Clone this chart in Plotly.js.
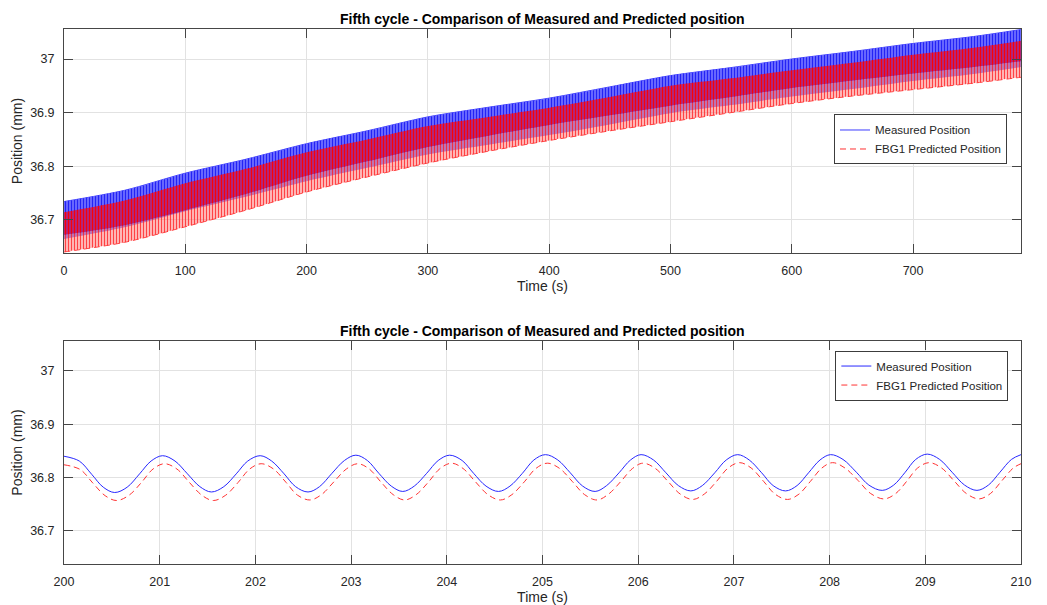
<!DOCTYPE html>
<html><head><meta charset="utf-8">
<script src="https://cdn.plot.ly/plotly-3.0.1.min.js"></script>
<style>html,body{margin:0;padding:0;background:#fff;} #chart{width:1047px;height:605px;}</style>
</head><body><div id="chart"></div>
<script>
const chartTitle = 'Fifth cycle - Comparison of Measured and Predicted position';
const seriesNames = ['Measured Position', 'FBG1 Predicted Position'];
const xTitle = 'Time (s)';
const yTitle = 'Position (mm)';

// Full record (top panel): envelope of the dense 1 Hz oscillation
const fullTime        = [0, 50, 100, 150, 200, 250, 300, 350, 400, 450, 500, 550, 600, 650, 700, 750, 789];
const measuredUpper   = [36.734, 36.755, 36.787, 36.813, 36.842, 36.866, 36.892, 36.910, 36.927, 36.948, 36.969, 36.984, 37.000, 37.014, 37.029, 37.042, 37.055];
const measuredLower   = [36.664, 36.686, 36.716, 36.743, 36.772, 36.797, 36.822, 36.840, 36.858, 36.878, 36.899, 36.914, 36.930, 36.944, 36.959, 36.972, 36.985];
const predictedUpper  = [36.714, 36.736, 36.768, 36.795, 36.826, 36.850, 36.875, 36.892, 36.909, 36.929, 36.950, 36.964, 36.979, 36.993, 37.008, 37.021, 37.034];
const predictedMid    = [36.672, 36.690, 36.718, 36.748, 36.782, 36.809, 36.836, 36.857, 36.877, 36.895, 36.913, 36.929, 36.946, 36.960, 36.973, 36.985, 36.996];
const predictedLower  = [36.640, 36.658, 36.687, 36.718, 36.752, 36.780, 36.806, 36.828, 36.848, 36.866, 36.883, 36.900, 36.917, 36.931, 36.943, 36.955, 36.966];

// Zoomed window 200-210 s (bottom panel)
const zoomTimeMeasured = [
  200.00, 200.16, 200.29, 200.41, 200.53, 200.66, 200.79, 200.91,
  201.03, 201.16, 201.29, 201.42, 201.54, 201.67, 201.80, 201.92,
  202.05, 202.17, 202.30, 202.42, 202.55, 202.67, 202.80, 202.93,
  203.05, 203.17, 203.29, 203.42, 203.54, 203.66, 203.79, 203.91,
  204.03, 204.16, 204.28, 204.41, 204.54, 204.66, 204.79, 204.91,
  205.03, 205.16, 205.29, 205.42, 205.55, 205.67, 205.80, 205.92,
  206.03, 206.16, 206.29, 206.42, 206.55, 206.67, 206.80, 206.92,
  207.04, 207.16, 207.29, 207.41, 207.54, 207.66, 207.78, 207.90,
  208.01, 208.14, 208.28, 208.41, 208.55, 208.67, 208.79, 208.90,
  209.02, 209.15, 209.28, 209.41, 209.54, 209.66, 209.78, 209.90,
  210.00];
const zoomMeasured = [
  36.840, 36.831, 36.806, 36.782, 36.772, 36.782, 36.807, 36.831,
  36.841, 36.831, 36.807, 36.783, 36.773, 36.783, 36.807, 36.831,
  36.841, 36.831, 36.807, 36.783, 36.773, 36.783, 36.808, 36.832,
  36.842, 36.832, 36.808, 36.784, 36.774, 36.784, 36.808, 36.832,
  36.842, 36.832, 36.808, 36.784, 36.774, 36.784, 36.808, 36.833,
  36.843, 36.833, 36.809, 36.784, 36.774, 36.785, 36.809, 36.833,
  36.843, 36.833, 36.809, 36.785, 36.775, 36.785, 36.809, 36.833,
  36.843, 36.833, 36.809, 36.785, 36.775, 36.785, 36.809, 36.833,
  36.843, 36.834, 36.810, 36.786, 36.776, 36.786, 36.810, 36.834,
  36.844, 36.834, 36.810, 36.786, 36.776, 36.786, 36.810, 36.834,
  36.843];
const zoomTimePredicted = [
  200.00, 200.17, 200.30, 200.43, 200.55, 200.68, 200.81, 200.93,
  201.05, 201.18, 201.31, 201.44, 201.56, 201.69, 201.82, 201.94,
  202.06, 202.19, 202.32, 202.44, 202.57, 202.69, 202.82, 202.95,
  203.07, 203.19, 203.31, 203.44, 203.56, 203.68, 203.81, 203.93,
  204.05, 204.17, 204.30, 204.43, 204.56, 204.68, 204.81, 204.93,
  205.05, 205.18, 205.31, 205.44, 205.57, 205.69, 205.82, 205.94,
  206.05, 206.18, 206.31, 206.44, 206.57, 206.69, 206.82, 206.94,
  207.06, 207.18, 207.31, 207.43, 207.56, 207.68, 207.80, 207.92,
  208.03, 208.16, 208.30, 208.43, 208.57, 208.69, 208.81, 208.92,
  209.04, 209.17, 209.30, 209.43, 209.56, 209.68, 209.80, 209.92,
  210.00];
const zoomPredicted = [
  36.824, 36.815, 36.790, 36.766, 36.757, 36.767, 36.791, 36.816,
  36.826, 36.816, 36.791, 36.767, 36.757, 36.767, 36.791, 36.816,
  36.826, 36.816, 36.791, 36.767, 36.758, 36.768, 36.792, 36.816,
  36.826, 36.816, 36.792, 36.768, 36.758, 36.768, 36.792, 36.817,
  36.827, 36.817, 36.792, 36.768, 36.758, 36.768, 36.792, 36.817,
  36.827, 36.817, 36.793, 36.768, 36.758, 36.769, 36.793, 36.817,
  36.827, 36.817, 36.793, 36.769, 36.759, 36.769, 36.793, 36.818,
  36.828, 36.818, 36.793, 36.769, 36.759, 36.769, 36.793, 36.818,
  36.828, 36.818, 36.794, 36.770, 36.760, 36.770, 36.794, 36.818,
  36.828, 36.818, 36.794, 36.770, 36.760, 36.770, 36.794, 36.818,
  36.826];

const fullTicks = [0, 100, 200, 300, 400, 500, 600, 700];
const zoomTicks = [200, 201, 202, 203, 204, 205, 206, 207, 208, 209, 210];
const yTicks = [36.7, 36.8, 36.9, 37];
const yTickText = ['36.7', '36.8', '36.9', '37'];

const FONT = 'Liberation Sans, Arial, Helvetica, sans-serif';
const TXT = 'rgb(38,38,38)';
const envLine = {width: 0, color: 'rgba(0,0,0,0)', shape: 'spline', smoothing: 0.8};
const BLUE_LINE = 'rgb(60,60,255)';
const RED_LINE = 'rgb(255,50,50)';

const traces = [
  // top panel edge lines (carry the top legend)
  {x: fullTime, y: measuredUpper, xaxis: 'x', yaxis: 'y', mode: 'lines', name: seriesNames[0],
   line: {color: BLUE_LINE, width: 1, shape: 'spline', smoothing: 0.8}, legend: 'legend', hoverinfo: 'skip'},
  {x: fullTime, y: predictedLower, xaxis: 'x', yaxis: 'y', mode: 'lines', name: seriesNames[1],
   line: {color: RED_LINE, width: 1, dash: '6px,4px', shape: 'spline', smoothing: 0.8}, legend: 'legend', hoverinfo: 'skip'},
  // top panel bands
  {x: fullTime, y: measuredLower, xaxis: 'x', yaxis: 'y', mode: 'lines', line: envLine, showlegend: false, hoverinfo: 'skip'},
  {x: fullTime, y: measuredUpper, xaxis: 'x', yaxis: 'y', mode: 'lines', fill: 'tonexty', line: envLine,
   fillcolor: 'rgb(80,80,255)', fillpattern: {shape: '|', size: 3, solidity: 0.4, fgcolor: 'rgb(35,35,245)', bgcolor: 'rgb(110,110,255)'},
   showlegend: false, hoverinfo: 'skip'},
  {x: fullTime, y: predictedLower, xaxis: 'x', yaxis: 'y', mode: 'lines', line: envLine, showlegend: false, hoverinfo: 'skip'},
  {x: fullTime, y: predictedMid, xaxis: 'x', yaxis: 'y', mode: 'lines', fill: 'tonexty', line: envLine,
   fillcolor: 'rgba(255,110,110,0.6)', fillpattern: {shape: '|', size: 3, solidity: 0.5, fgcolor: 'rgba(255,40,40,0.85)', bgcolor: 'rgba(255,175,175,0.45)'},
   showlegend: false, hoverinfo: 'skip'},
  {x: fullTime, y: predictedUpper, xaxis: 'x', yaxis: 'y', mode: 'lines', fill: 'tonexty', line: envLine,
   fillcolor: 'rgba(240,0,40,0.7)', fillpattern: {shape: '|', size: 3, solidity: 0.55, fgcolor: 'rgba(255,0,0,0.95)', bgcolor: 'rgba(190,0,90,0.5)'},
   showlegend: false, hoverinfo: 'skip'},
  // bottom panel lines
  {x: zoomTimeMeasured, y: zoomMeasured, xaxis: 'x2', yaxis: 'y2', mode: 'lines', name: seriesNames[0],
   line: {color: 'rgb(40,40,255)', width: 1, shape: 'spline', smoothing: 1}, legend: 'legend2'},
  {x: zoomTimePredicted, y: zoomPredicted, xaxis: 'x2', yaxis: 'y2', mode: 'lines', name: seriesNames[1],
   line: {color: RED_LINE, width: 1, dash: '6px,4px', shape: 'spline', smoothing: 1}, legend: 'legend2'}
];

const axisBase = {
  showline: true, linecolor: 'rgb(70,70,70)', linewidth: 1, mirror: 'ticks',
  ticks: 'inside', ticklen: 9, tickwidth: 1, tickcolor: 'rgb(70,70,70)',
  showgrid: true, gridcolor: 'rgb(226,226,226)', gridwidth: 1, zeroline: false,
  tickfont: {family: FONT, size: 12.5, color: TXT}, ticklabelstandoff: 6
};
const yRange = [36.638, 37.056];

const legendBase = {xanchor: 'left', yanchor: 'top', bgcolor: 'white', bordercolor: 'rgb(60,60,60)', borderwidth: 1,
  font: {family: FONT, size: 11.5, color: TXT}, tracegroupgap: 0, traceorder: 'normal'};

const layout = {
  width: 1047, height: 605,
  margin: {l: 64, r: 26, t: 29, b: 41},
  paper_bgcolor: 'white', plot_bgcolor: 'white',
  font: {family: FONT, color: TXT},
  showlegend: true,
  xaxis: Object.assign({}, axisBase, {domain: [0, 1], anchor: 'y', range: [0, 789], tickvals: fullTicks,
    title: {text: xTitle, font: {family: FONT, size: 14, color: TXT}, standoff: 4}}),
  yaxis: Object.assign({}, axisBase, {domain: [0.5813, 1], anchor: 'x', range: yRange, tickvals: yTicks, ticktext: yTickText,
    title: {text: yTitle, font: {family: FONT, size: 14, color: TXT}, standoff: 4}}),
  xaxis2: Object.assign({}, axisBase, {domain: [0, 1], anchor: 'y2', range: [200, 210], tickvals: zoomTicks,
    title: {text: xTitle, font: {family: FONT, size: 14, color: TXT}, standoff: 4}}),
  yaxis2: Object.assign({}, axisBase, {domain: [0, 0.4168], anchor: 'x2', range: yRange, tickvals: yTicks, ticktext: yTickText,
    title: {text: yTitle, font: {family: FONT, size: 14, color: TXT}, standoff: 4}}),
  legend: Object.assign({}, legendBase, {x: 0.8046, y: 0.8402}),
  legend2: Object.assign({}, legendBase, {x: 0.806, y: 0.399}),
  annotations: [
    {text: '<b>' + chartTitle + '</b>', xref: 'paper', yref: 'paper', x: 0.5, y: 1.0187, xanchor: 'center', yanchor: 'middle',
     showarrow: false, font: {family: FONT, size: 14, color: 'black'}},
    {text: '<b>' + chartTitle + '</b>', xref: 'paper', yref: 'paper', x: 0.5, y: 0.436, xanchor: 'center', yanchor: 'middle',
     showarrow: false, font: {family: FONT, size: 14, color: 'black'}}
  ]
};

Plotly.newPlot('chart', traces, layout, {displayModeBar: false, staticPlot: true});
</script>
</body></html>
